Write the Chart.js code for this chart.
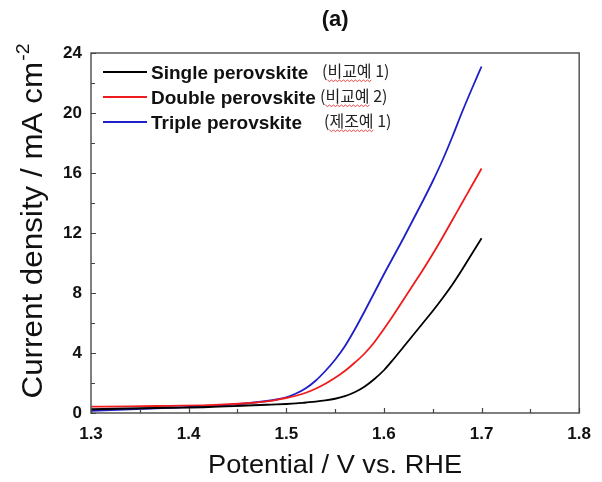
<!DOCTYPE html>
<html>
<head>
<meta charset="utf-8">
<script src="https://cdn.jsdelivr.net/npm/chart.js@4.4.0/dist/chart.umd.min.js"></script>
<style>
  html, body { margin: 0; padding: 0; background: #fff; }
  #wrap { width: 602px; height: 482px; }
</style>
</head>
<body>
<div id="wrap"><canvas id="c" width="602" height="482"></canvas></div>
<script>
// Linear sweep voltammetry (OER) curves, potential vs. RHE
const potential = [1.30, 1.34, 1.38, 1.42, 1.46, 1.48, 1.49, 1.50, 1.51, 1.52, 1.53, 1.54, 1.55, 1.56, 1.57, 1.58, 1.59,
                   1.60, 1.61, 1.62, 1.63, 1.64, 1.65, 1.66, 1.67, 1.68, 1.69, 1.70];
const singleCurrent = [0.25, 0.30, 0.35, 0.40, 0.50, 0.55, 0.57, 0.60, 0.64, 0.70, 0.76, 0.84, 0.95, 1.12, 1.38, 1.75, 2.25,
                       2.85, 3.60, 4.40, 5.20, 6.00, 6.80, 7.65, 8.55, 9.55, 10.60, 11.65];
const doubleCurrent = [0.42, 0.44, 0.48, 0.52, 0.65, 0.78, 0.88, 1.00, 1.15, 1.35, 1.62, 1.95, 2.35, 2.80, 3.35, 3.95, 4.70,
                       5.60, 6.55, 7.55, 8.55, 9.55, 10.60, 11.70, 12.85, 14.00, 15.15, 16.30];
const tripleCurrent = [0.15, 0.25, 0.35, 0.45, 0.65, 0.80, 0.90, 1.05, 1.30, 1.65, 2.15, 2.80, 3.55, 4.45, 5.55, 6.75, 8.00,
                       9.25, 10.45, 11.65, 12.90, 14.15, 15.45, 16.85, 18.40, 20.05, 21.60, 23.10];

const seriesNames = ['Single perovskite', 'Double perovskite', 'Triple perovskite'];
const seriesNotes = ['(비교예 1)', '(비교예 2)', '(제조예 1)'];
const seriesColors = ['#000000', '#ee1c1c', '#1f1fc8'];

const xTickValues = [1.3, 1.4, 1.5, 1.6, 1.7, 1.8];
const yTickValues = [0, 4, 8, 12, 16, 20, 24];

const panelTitle = '(a)';
const xTitle = 'Potential / V vs. RHE';
const yTitle = 'Current density / mA cm';
const yTitleSup = '-2';

const toPoints = arr => arr.map((v, i) => ({ x: potential[i], y: v }));
const seriesValues = [singleCurrent, doubleCurrent, tripleCurrent];

const tickFont = { family: '"Liberation Sans", Arial, sans-serif', size: 17, weight: 'bold' };

// Frame, inward ticks, legend and titles
const decorations = {
  id: 'decorations',
  afterDatasetsDraw(chart) {
    const { ctx, chartArea: a, scales: { x, y } } = chart;
    ctx.save();
    ctx.strokeStyle = '#555';
    ctx.lineWidth = 1.5;
    ctx.strokeRect(a.left, a.top, a.right - a.left, a.bottom - a.top);

    ctx.strokeStyle = '#444';
    ctx.lineWidth = 1.2;
    ctx.beginPath();
    // x ticks (major + minor), pointing into the plot
    for (let k = 0; k <= 10; k++) {
      const v = 1.3 + k * 0.05;
      const px = Math.round(x.getPixelForValue(v)) + 0.5;
      const len = (k % 2 === 0) ? 5 : 4;
      ctx.moveTo(px, a.bottom);
      ctx.lineTo(px, a.bottom - len);
    }
    // y ticks (major + minor)
    for (let k = 0; k <= 12; k++) {
      const v = k * 2;
      const py = Math.round(y.getPixelForValue(v)) + 0.5;
      const len = (k % 2 === 0) ? 5 : 4;
      ctx.moveTo(a.left, py);
      ctx.lineTo(a.left + len, py);
    }
    ctx.stroke();
    ctx.restore();
  },
  afterDraw(chart) {
    const { ctx, chartArea: a } = chart;
    ctx.save();

    // panel title
    ctx.fillStyle = '#111';
    ctx.font = 'bold 22px "Liberation Sans", Arial, sans-serif';
    ctx.textAlign = 'center';
    ctx.textBaseline = 'alphabetic';
    ctx.fillText(panelTitle, (a.left + a.right) / 2, 26);

    // x axis title
    ctx.font = '25px "Liberation Sans", Arial, sans-serif';
    const xw = ctx.measureText(xTitle).width;
    const xs = 254 / xw;
    ctx.save();
    ctx.translate((a.left + a.right) / 2, 473);
    ctx.scale(xs, 1);
    ctx.textAlign = 'center';
    ctx.fillText(xTitle, 0, 0);
    ctx.restore();

    // y axis title with superscript
    ctx.save();
    ctx.translate(42, 221);
    ctx.rotate(-Math.PI / 2);
    ctx.font = '29px "Liberation Sans", Arial, sans-serif';
    const mainW = ctx.measureText(yTitle).width;
    ctx.font = '18px "Liberation Sans", Arial, sans-serif';
    const supW = ctx.measureText(yTitleSup).width;
    const total = mainW + supW + 1;
    const ys = 355 / total;
    ctx.scale(ys, 1);
    ctx.textAlign = 'left';
    ctx.font = '29px "Liberation Sans", Arial, sans-serif';
    ctx.fillText(yTitle, -total / 2, 0);
    ctx.font = '18px "Liberation Sans", Arial, sans-serif';
    ctx.fillText(yTitleSup, -total / 2 + mainW + 1, -13);
    ctx.restore();

    // legend
    const noteX = [322, 320, 324];
    chart.data.datasets.forEach((ds, i) => {
      const ly = 72 + 25 * i;
      ctx.strokeStyle = ds.borderColor;
      ctx.lineWidth = 2;
      ctx.beginPath();
      ctx.moveTo(103, ly);
      ctx.lineTo(147, ly);
      ctx.stroke();

      ctx.fillStyle = '#111';
      ctx.textAlign = 'left';
      ctx.font = 'bold 19px "Liberation Sans", Arial, sans-serif';
      ctx.fillText(ds.label, 151, ly + 7);

      ctx.font = '16px "Noto Sans CJK KR", sans-serif';
      const note = seriesNotes[i];
      ctx.fillStyle = '#222';
      ctx.fillText(note, noteX[i], ly + 5);

      // spell-check style wavy underline under the Korean word
      const pre = ctx.measureText('(').width;
      const word = note.slice(1, note.indexOf(' '));
      const ww = ctx.measureText(word).width;
      ctx.strokeStyle = '#e03030';
      ctx.lineWidth = 0.9;
      ctx.beginPath();
      const sx = noteX[i] + pre, sy = ly + 8;
      for (let t = 0; t <= ww; t += 2) {
        const yy = sy + ((t / 2) % 2 === 0 ? 0 : 1.5);
        if (t === 0) ctx.moveTo(sx + t, yy); else ctx.lineTo(sx + t, yy);
      }
      ctx.stroke();
    });

    ctx.restore();
  }
};

new Chart(document.getElementById('c'), {
  type: 'line',
  data: {
    datasets: seriesValues.map((vals, i) => ({
      label: seriesNames[i],
      data: toPoints(vals),
      borderColor: seriesColors[i],
      backgroundColor: seriesColors[i],
      borderWidth: 1.8,
      pointRadius: 0,
      cubicInterpolationMode: 'monotone',
      fill: false
    }))
  },
  options: {
    responsive: false,
    animation: false,
    devicePixelRatio: 1,
    layout: { padding: { top: 53, right: 14, left: 0, bottom: 0 } },
    plugins: {
      legend: { display: false },
      title: { display: false },
      tooltip: { enabled: false }
    },
    scales: {
      x: {
        type: 'linear',
        min: 1.3,
        max: 1.8,
        afterBuildTicks: s => { s.ticks = xTickValues.map(v => ({ value: v })); },
        afterFit: s => { s.height = 69; },
        grid: { display: false, drawTicks: false },
        border: { display: false },
        ticks: {
          font: tickFont,
          color: '#111',
          padding: 11,
          maxRotation: 0,
          callback: v => Number(v).toFixed(1)
        }
      },
      y: {
        type: 'linear',
        min: 0,
        max: 24,
        afterBuildTicks: s => { s.ticks = yTickValues.map(v => ({ value: v })); },
        afterFit: s => { s.width = 91; },
        grid: { display: false, drawTicks: false },
        border: { display: false },
        ticks: {
          font: tickFont,
          color: '#111',
          padding: 9,
          callback: v => String(v)
        }
      }
    }
  },
  plugins: [decorations]
});
</script>
</body>
</html>
